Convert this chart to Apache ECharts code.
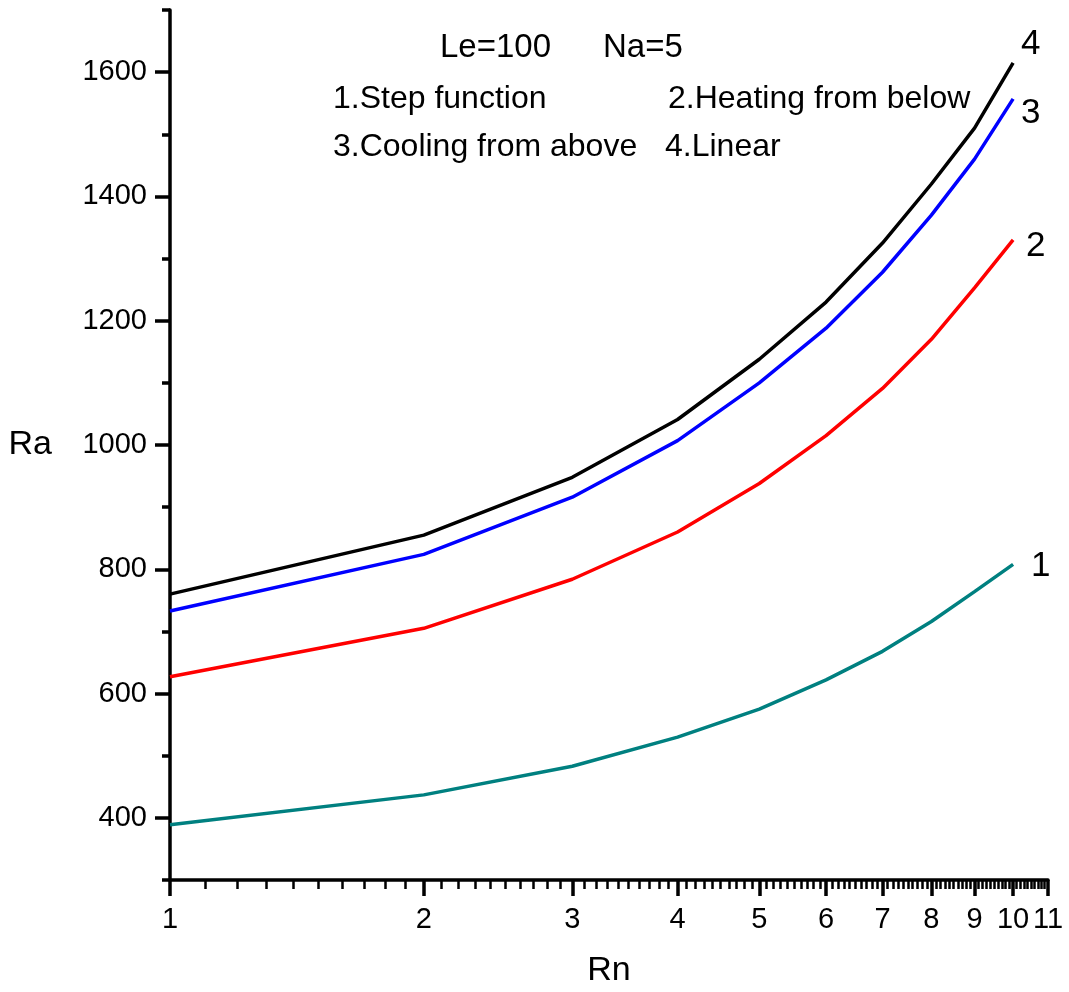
<!DOCTYPE html>
<html>
<head>
<meta charset="utf-8">
<title>Ra vs Rn</title>
<script src="https://cdn.jsdelivr.net/npm/echarts@6/dist/echarts.min.js"></script>
<style>
  html, body { margin: 0; padding: 0; background: #fff; }
  #chart { width: 1069px; height: 992px; }
</style>
</head>
<body>
<div id="chart"></div>
<script>
// Rn values (log axis)
const rn = [1, 2, 3, 4, 5, 6, 7, 8, 9, 10];
// 1.Step function
const stepFunction = [389, 437, 483, 530, 575, 622, 668, 716, 764, 808];
// 2.Heating from below
const heatingBelow = [627, 705, 784, 860, 938, 1015, 1091, 1170, 1253, 1330];
// 3.Cooling from above
const coolingAbove = [733, 824, 916, 1007, 1100, 1188, 1278, 1370, 1460, 1557];
// 4.Linear
const linear = [760, 855, 948, 1041, 1138, 1230, 1325, 1420, 1510, 1615];

const xMajorTicks = [1, 2, 3, 4, 5, 6, 7, 8, 9, 10, 11];
const yMajorTicks = [400, 600, 800, 1000, 1200, 1400, 1600];
const yMinorTicks = [300, 500, 700, 900, 1100, 1300, 1500, 1700];

// minor ticks every 0.1 between the integers
const xMinorTicks = [];
for (let i = 11; i < 110; i++) {
  if (i % 10 !== 0) xMinorTicks.push(i / 10);
}

const font = '"Liberation Sans", Arial, sans-serif';

const chart = echarts.init(document.getElementById('chart'));

const pairs = (ys) => rn.map((x, i) => [x, ys[i]]);

const makeSeries = (name, ys, color, label, offset) => ({
  name: name,
  type: 'line',
  xAxisIndex: 0,
  yAxisIndex: 0,
  data: pairs(ys),
  showSymbol: false,
  symbol: 'none',
  lineStyle: { color: color, width: 3.5 },
  itemStyle: { color: color },
  endLabel: {
    show: true,
    formatter: label,
    color: '#000',
    fontFamily: font,
    fontSize: 35,
    offset: offset
  }
});

chart.setOption({
  animation: false,
  backgroundColor: '#fff',
  grid: {
    left: 170,
    right: 21,
    top: 10,
    bottom: 112,
    containLabel: false,
    outerBoundsMode: 'none'
  },
  xAxis: [
    {
      type: 'log',
      position: 'bottom',
      min: 1,
      max: 11,
      logBase: 10,
      name: 'Rn',
      nameLocation: 'middle',
      nameGap: 74,
      nameTextStyle: { fontFamily: font, fontSize: 34, color: '#000' },
      axisLine: { show: true, lineStyle: { color: '#000', width: 3.5 } },
      axisTick: { show: true, length: 16, customValues: xMajorTicks, lineStyle: { color: '#000', width: 3.5 } },
      axisLabel: {
        customValues: xMajorTicks,
        formatter: (v) => String(v),
        margin: 25,
        fontFamily: font,
        fontSize: 29,
        color: '#000'
      },
      splitLine: { show: false }
    },
    {
      type: 'log',
      position: 'bottom',
      min: 1,
      max: 11,
      logBase: 10,
      axisLine: { show: false },
      axisTick: { show: true, length: 9, customValues: xMinorTicks, lineStyle: { color: '#000', width: 2.5 } },
      axisLabel: { show: false },
      splitLine: { show: false }
    }
  ],
  yAxis: [
    {
      type: 'value',
      position: 'left',
      min: 300,
      max: 1700,
      name: 'Ra',
      nameLocation: 'middle',
      nameRotate: 0,
      nameGap: 118,
      nameTextStyle: { fontFamily: font, fontSize: 34, color: '#000' },
      axisLine: { show: true, lineStyle: { color: '#000', width: 3.5 } },
      axisTick: { show: true, length: 15, customValues: yMajorTicks, lineStyle: { color: '#000', width: 3.5 } },
      axisLabel: {
        customValues: yMajorTicks,
        formatter: (v) => String(v),
        margin: 23,
        fontFamily: font,
        fontSize: 29,
        color: '#000'
      },
      splitLine: { show: false }
    },
    {
      type: 'value',
      position: 'left',
      min: 300,
      max: 1700,
      axisLine: { show: false },
      axisTick: { show: true, length: 8, customValues: yMinorTicks, lineStyle: { color: '#000', width: 3.5 } },
      axisLabel: { show: false },
      splitLine: { show: false }
    }
  ],
  graphic: [
    {
      type: 'text', left: 440, top: 31,
      style: { text: 'Le=100', fontFamily: font, fontSize: 33, fill: '#000' }
    },
    {
      type: 'text', left: 603, top: 31,
      style: { text: 'Na=5', fontFamily: font, fontSize: 33, fill: '#000' }
    },
    {
      type: 'text', left: 333, top: 83,
      style: { text: '1.Step function', fontFamily: font, fontSize: 32, fill: '#000' }
    },
    {
      type: 'text', left: 668, top: 83,
      style: { text: '2.Heating from below', fontFamily: font, fontSize: 32, fill: '#000' }
    },
    {
      type: 'text', left: 333, top: 131,
      style: { text: '3.Cooling from above', fontFamily: font, fontSize: 32, fill: '#000' }
    },
    {
      type: 'text', left: 665, top: 131,
      style: { text: '4.Linear', fontFamily: font, fontSize: 32, fill: '#000' }
    }
  ],
  series: [
    makeSeries('1.Step function', stepFunction, '#008080', '1', [10, 2]),
    makeSeries('2.Heating from below', heatingBelow, '#ff0000', '2', [5, 6]),
    makeSeries('3.Cooling from above', coolingAbove, '#0000ff', '3', [0, 14]),
    makeSeries('4.Linear', linear, '#000000', '4', [0, -18])
  ]
});
</script>
</body>
</html>
